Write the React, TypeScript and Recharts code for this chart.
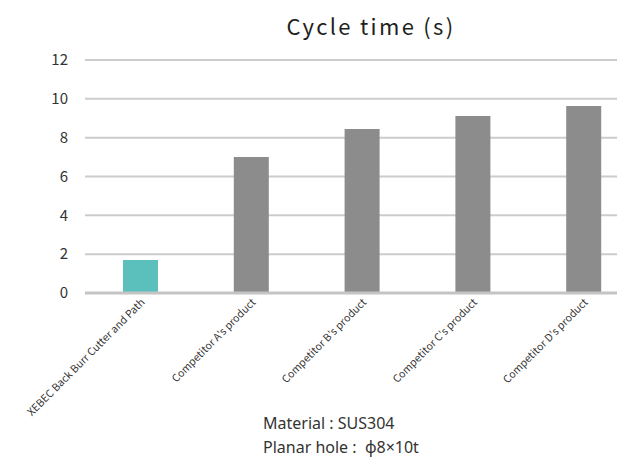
import { BarChart, Bar, XAxis, YAxis, CartesianGrid, Cell } from "recharts";

const categories = [
  "XEBEC Back Burr Cutter and Path",
  "Competitor A's product",
  "Competitor B's product",
  "Competitor C's product",
  "Competitor D's product",
];
const cycleTimes = [1.7, 7.0, 8.45, 9.12, 9.63];
const yTicks = [0, 2, 4, 6, 8, 10, 12];

const FONT = "'Noto Sans CJK JP', 'Noto Sans', sans-serif";

const data = categories.map((name, i) => ({ name, value: cycleTimes[i] }));

function CategoryTick({ x, y, payload }: any) {
  const tx = x + 5;
  const ty = y + 2;
  return (
    <text
      x={tx}
      y={ty}
      transform={`rotate(-45, ${tx}, ${ty})`}
      textAnchor="end"
      fontSize={10.5}
      fill="#333"
      fontFamily={FONT}
    >
      {payload.value}
    </text>
  );
}

export default function App() {
  return (
    <div
      style={{
        position: "absolute",
        left: 0,
        top: 0,
        width: 617,
        height: 458,
        overflow: "hidden",
        background: "#fff",
        fontFamily: FONT,
      }}
    >
      <div
        style={{
          position: "absolute",
          left: 0,
          width: 742,
          top: 9,
          textAlign: "center",
          fontSize: 22,
          letterSpacing: 2.3,
          color: "#231f20",
        }}
      >
        Cycle time (s)
      </div>
      <BarChart
        width={651}
        height={458}
        data={data}
        margin={{ top: 60, right: 12, left: 0, bottom: 0 }}
      >
        <CartesianGrid vertical={false} stroke="#cccccc" strokeWidth={2} />
        <XAxis
          dataKey="name"
          interval={0}
          height={165}
          tickLine={false}
          axisLine={{ stroke: "#c4c4c4", strokeWidth: 3 }}
          tick={<CategoryTick />}
        />
        <YAxis
          width={85}
          domain={[0, 12]}
          ticks={yTicks}
          axisLine={false}
          tickLine={false}
          tickMargin={11}
          tick={{ fill: "#333", fontSize: 15, fontFamily: FONT }}
        />
        <Bar dataKey="value" barSize={35} isAnimationActive={false}>
          {data.map((d, i) => (
            <Cell key={d.name} fill={i === 0 ? "#5bc0bc" : "#8c8c8c"} />
          ))}
        </Bar>
      </BarChart>
      <div
        style={{
          position: "absolute",
          left: 263,
          top: 411,
          fontSize: 16,
          lineHeight: "24px",
          color: "#333",
          fontFamily: "'Noto Sans', sans-serif",
        }}
      >
        <div>Material : SUS304</div>
        <div>Planar hole :&nbsp; φ8×10t</div>
      </div>
    </div>
  );
}
